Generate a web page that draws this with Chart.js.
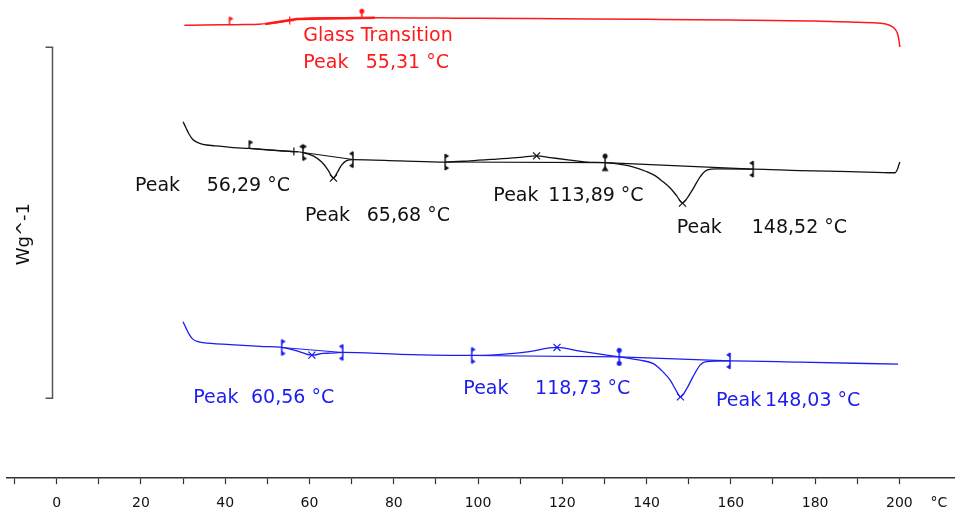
<!DOCTYPE html>
<html>
<head>
<meta charset="utf-8">
<script src="https://cdn.jsdelivr.net/npm/chart.js@4.4.1/dist/chart.umd.min.js"></script>
<style>
  html, body { margin: 0; padding: 0; background: #fff; overflow: hidden; }
  canvas { display: block; }
</style>
</head>
<body>
<canvas id="dsc" width="955" height="512"></canvas>
<script>
// ---- Temperature axis (°C) ----
const tempMin = -11.8;
const tempMax = 213.2;
const tickStep = 10;
const labelStep = 20;
const unitLabel = '°C';

// ---- Heat flow traces (relative units, offset per run) ----
// Run 1 (red): glass transition
const redT = [30.3, 35, 41.0, 45, 48, 50, 52, 54, 55.31, 57, 59, 62, 66, 75, 90, 100, 120, 140, 160, 180, 190, 195.5, 197.5, 198.8, 199.5, 199.9, 200.1];
const redV = [94.71, 94.77, 94.83, 94.87, 94.94, 95.06, 95.25, 95.50, 95.69, 95.96, 96.13, 96.23, 96.30, 96.30, 96.23, 96.17, 96.07, 95.96, 95.82, 95.61, 95.33, 95.13, 94.77, 94.08, 93.10, 91.63, 90.17];

// Run 2 (black)
const blackT = [30.0, 30.7, 31.4, 32.3, 33.5, 34.7, 37.6, 42.0, 45.7, 48.3, 53.0, 56.29, 58.46, 61.0, 62.9, 64.4, 65.68, 66.7, 67.6, 68.8, 70.3, 81.5, 92.2, 98.1, 104.5, 110.0, 113.89, 117.1, 121.8, 126.6, 130.15, 133.7, 136.1, 140.1, 142.0, 143.9, 145.6, 147.2, 148.52, 149.8, 151.0, 152.7, 154.3, 156.7, 165.3, 176.4, 188.3, 199.0, 199.55, 199.85, 200.1];
const blackV = [74.54, 73.22, 71.97, 70.82, 70.19, 69.81, 69.50, 69.12, 68.97, 68.77, 68.47, 68.31, 68.10, 67.36, 66.11, 64.44, 62.76, 64.12, 65.48, 66.42, 66.63, 66.36, 66.11, 66.36, 66.74, 67.09, 67.41, 67.05, 66.53, 66.05, 66.00, 65.63, 65.27, 64.08, 63.28, 61.99, 60.67, 59.00, 57.53, 58.79, 60.46, 63.03, 64.44, 64.69, 64.64, 64.33, 64.12, 63.87, 64.64, 65.48, 66.11];

// Run 3 (blue)
const blueT = [30.0, 30.7, 31.4, 32.3, 33.5, 34.7, 41.2, 48.3, 53.4, 55.4, 57.0, 60.56, 63.2, 64.9, 67.88, 81.5, 98.5, 102.85, 111.7, 118.73, 124.2, 129.0, 133.5, 138.4, 141.5, 143.9, 145.6, 147.2, 148.03, 149.6, 151.0, 152.7, 153.9, 159.8, 176.4, 199.7];
const blueV = [32.70, 31.38, 30.13, 29.08, 28.56, 28.35, 27.93, 27.55, 27.34, 26.99, 26.63, 25.73, 26.09, 26.15, 26.30, 25.90, 25.67, 25.73, 26.42, 27.34, 26.57, 25.94, 25.38, 24.69, 24.00, 22.24, 20.50, 18.05, 17.01, 18.83, 21.19, 23.64, 24.33, 24.54, 24.27, 23.85];

// ---- Evaluation results ----
const redGlassT = [55.31];
const redLimits = [41.0, 72.4];
const redTangentT = [49.5, 57.0, 75.5];
const redTangentV = [94.98, 96.03, 96.30];

const blackGlassT = [56.29];
const blackPeaksT = [65.68, 113.89, 148.52];
const blackLimits = [45.7, 58.46, 70.3, 92.2, 130.15, 165.3];
const blackBaseT = [[58.46, 70.3], [92.2, 130.15], [130.15, 165.3]];

const bluePeaksT = [60.56, 118.73, 148.03];
const blueLimits = [53.4, 67.88, 98.5, 133.5, 159.8];
const blueBaseT = [[53.4, 67.88], [98.5, 133.5], [133.5, 159.8]];

// Vertical scale bar (heat flow units)
const scaleBar = [16.74, 90.1];
const yUnit = 'Wg^-1';

// ---- helpers ----
const RED = '#ff1a1a', BLACK = '#111111', BLUE = '#1c1cf0';
const pts = (T, V) => T.map((t, i) => ({ x: t, y: V[i] }));
function valueAt(T, V, t) {
  for (let i = 0; i < T.length - 1; i++) {
    if (t >= T[i] && t <= T[i + 1]) {
      const f = (t - T[i]) / (T[i + 1] - T[i]);
      return V[i] + f * (V[i + 1] - V[i]);
    }
  }
  return V[V.length - 1];
}
const fmt = v => v.toFixed(2).replace('.', ',') + ' °C';

// integration limit symbols
function makeMarker(color, top, bottom) {
  const c = document.createElement('canvas');
  c.width = 14; c.height = 20;
  const g = c.getContext('2d');
  const cx = 7, cy = 10;
  g.strokeStyle = color; g.fillStyle = color; g.lineWidth = 1.5;
  g.beginPath();
  g.moveTo(cx, top === 'none' ? cy : cy - 8);
  g.lineTo(cx, bottom === 'none' ? cy : cy + 8);
  g.stroke();
  const flag = (dir, y0, y1) => {
    g.beginPath(); g.moveTo(cx, y0); g.lineTo(cx + dir * 4, (y0 + y1) / 2); g.lineTo(cx, y1); g.closePath(); g.fill();
  };
  const dot = (y) => { g.beginPath(); g.arc(cx, y, 2.5, 0, Math.PI * 2); g.fill(); };
  if (top === 'r' || top === 'lr') flag(1, cy - 8.5, cy - 3.5);
  if (top === 'l' || top === 'lr') flag(-1, cy - 8.5, cy - 3.5);
  if (top === 'dot') dot(cy - 6.5);
  if (bottom === 'r' || bottom === 'lr') flag(1, cy + 8.5, cy + 3.5);
  if (bottom === 'l' || bottom === 'lr') flag(-1, cy + 8.5, cy + 3.5);
  if (bottom === 'dot') dot(cy + 6.5);
  if (bottom === 'tri') { g.beginPath(); g.moveTo(cx - 3.5, cy + 8.5); g.lineTo(cx + 3.5, cy + 8.5); g.lineTo(cx, cy + 3); g.closePath(); g.fill(); }
  return c;
}

function curve(T, V, color, width) {
  return { type: 'line', data: pts(T, V), borderColor: color, borderWidth: width, pointRadius: 0,
           cubicInterpolationMode: 'monotone', fill: false, order: 2 };
}
function straight(T, V, color, width) {
  return { type: 'line', data: pts(T, V), borderColor: color, borderWidth: width, pointRadius: 0,
           tension: 0, fill: false, order: 3 };
}
function symbols(T, srcT, srcV, color, style, radius) {
  return { type: 'scatter', data: T.map(t => ({ x: t, y: valueAt(srcT, srcV, t) })), showLine: false,
           pointStyle: style, pointRadius: radius, pointBorderColor: color, pointBackgroundColor: color,
           pointBorderWidth: 1.2, borderColor: color, backgroundColor: color, order: 1, clip: false };
}

const datasets = [];
// red run
datasets.push(curve(redT, redV, RED, 1.5));
datasets.push(straight(redTangentT, redTangentV, RED, 2.4));
datasets.push(symbols(redGlassT, redT, redV, RED, 'cross', 4));
datasets.push(symbols(redLimits, redT, redV, RED, [makeMarker(RED, 'r', 'none'), makeMarker(RED, 'dot', 'none')], 7));
// black run
datasets.push(curve(blackT, blackV, BLACK, 1.3));
datasets.push(straight([45.7, 56.29], [valueAt(blackT, blackV, 45.7), valueAt(blackT, blackV, 56.29)], BLACK, 1.2));
blackBaseT.forEach(r => datasets.push(straight(r, r.map(t => valueAt(blackT, blackV, t)), BLACK, 1.1)));
datasets.push(symbols(blackGlassT, blackT, blackV, BLACK, 'cross', 4));
datasets.push(symbols(blackPeaksT, blackT, blackV, BLACK, 'crossRot', 5));
datasets.push(symbols(blackLimits, blackT, blackV, BLACK, [
  makeMarker(BLACK, 'r', 'none'), makeMarker(BLACK, 'lr', 'r'), makeMarker(BLACK, 'l', 'l'),
  makeMarker(BLACK, 'r', 'r'), makeMarker(BLACK, 'dot', 'tri'), makeMarker(BLACK, 'l', 'l')], 7));
// blue run
datasets.push(curve(blueT, blueV, BLUE, 1.3));
blueBaseT.forEach(r => datasets.push(straight(r, r.map(t => valueAt(blueT, blueV, t)), BLUE, 1.1)));
datasets.push(symbols(bluePeaksT, blueT, blueV, BLUE, 'crossRot', 5));
datasets.push(symbols(blueLimits, blueT, blueV, BLUE, [
  makeMarker(BLUE, 'r', 'r'), makeMarker(BLUE, 'l', 'l'), makeMarker(BLUE, 'r', 'r'),
  makeMarker(BLUE, 'dot', 'dot'), makeMarker(BLUE, 'l', 'l')], 7));

// result texts: [color, [[text, x(°C)], ...], y]
const resultTexts = [
  [RED,   [['Glass Transition', 58.53]], 92.36],
  [RED,   [['Peak', 58.53], [fmt(redGlassT[0]), 73.34]], 86.82],
  [BLACK, [['Peak', 18.58], [fmt(blackGlassT[0]), 35.60]], 61.09],
  [BLACK, [['Peak', 58.93], [fmt(blackPeaksT[0]), 73.58]], 54.92],
  [BLACK, [['Peak', 103.63], [fmt(blackPeaksT[1]), 116.68]], 59.10],
  [BLACK, [['Peak', 147.16], [fmt(blackPeaksT[2]), 164.96]], 52.41],
  [BLUE,  [['Peak', 32.42], [fmt(bluePeaksT[0]), 46.12]], 16.84],
  [BLUE,  [['Peak', 96.51], [fmt(bluePeaksT[1]), 113.53]], 18.62],
  [BLUE,  [['Peak', 156.48], [fmt(bluePeaksT[2]), 168.11]], 16.11]
];

const annotate = {
  id: 'annotate',
  afterDatasetsDraw(chart) {
    const { ctx, scales: { x, y } } = chart;
    ctx.save();
    ctx.font = '19px "DejaVu Sans"';
    ctx.textBaseline = 'middle';
    ctx.textAlign = 'left';
    resultTexts.forEach(([color, parts, v]) => {
      ctx.fillStyle = color;
      parts.forEach(([txt, t]) => ctx.fillText(txt, x.getPixelForValue(t), y.getPixelForValue(v)));
    });
    // temperature unit at the end of the axis
    ctx.font = '14px "DejaVu Sans"';
    ctx.fillStyle = '#111';
    ctx.textAlign = 'center';
    ctx.fillText(unitLabel, x.getPixelForValue(209.4), x.top + 25);
    // heat flow scale bar
    const bx = Math.round(x.getPixelForValue(-1.1)) + 0.5;
    const y0 = y.getPixelForValue(scaleBar[1]), y1 = y.getPixelForValue(scaleBar[0]);
    ctx.strokeStyle = '#555'; ctx.lineWidth = 1.5;
    ctx.beginPath();
    ctx.moveTo(bx - 7, y0); ctx.lineTo(bx, y0); ctx.lineTo(bx, y1); ctx.lineTo(bx - 7, y1);
    ctx.stroke();
    // unit label
    ctx.font = '18px "DejaVu Sans"';
    ctx.translate(x.getPixelForValue(-7.76), y.getPixelForValue(51.05));
    ctx.rotate(-Math.PI / 2);
    ctx.fillText(yUnit, 0, 0);
    ctx.restore();
  }
};

new Chart(document.getElementById('dsc'), {
  data: { datasets },
  options: {
    responsive: false,
    devicePixelRatio: 1,
    animation: false,
    layout: { autoPadding: false, padding: { left: 7, right: 0, top: 0, bottom: -11 } },
    plugins: { legend: { display: false }, tooltip: { enabled: false } },
    scales: {
      x: {
        type: 'linear', position: 'bottom', min: tempMin, max: tempMax,
        border: { display: true, color: '#333', width: 1.5 },
        grid: { drawOnChartArea: false, drawTicks: true, tickLength: 6, tickWidth: 1.2,
                tickColor: c => (c.tick && c.tick.value > 200) ? 'rgba(0,0,0,0)' : '#333' },
        ticks: {
          stepSize: tickStep, includeBounds: false, autoSkip: false, maxRotation: 0, minRotation: 0,
          padding: 11, color: '#111', font: { family: 'DejaVu Sans', size: 14 },
          callback: v => (v % labelStep === 0 && v <= 200) ? String(v) : ''
        }
      },
      y: { type: 'linear', display: false, min: 0, max: 100 }
    }
  },
  plugins: [annotate]
});
</script>
</body>
</html>
